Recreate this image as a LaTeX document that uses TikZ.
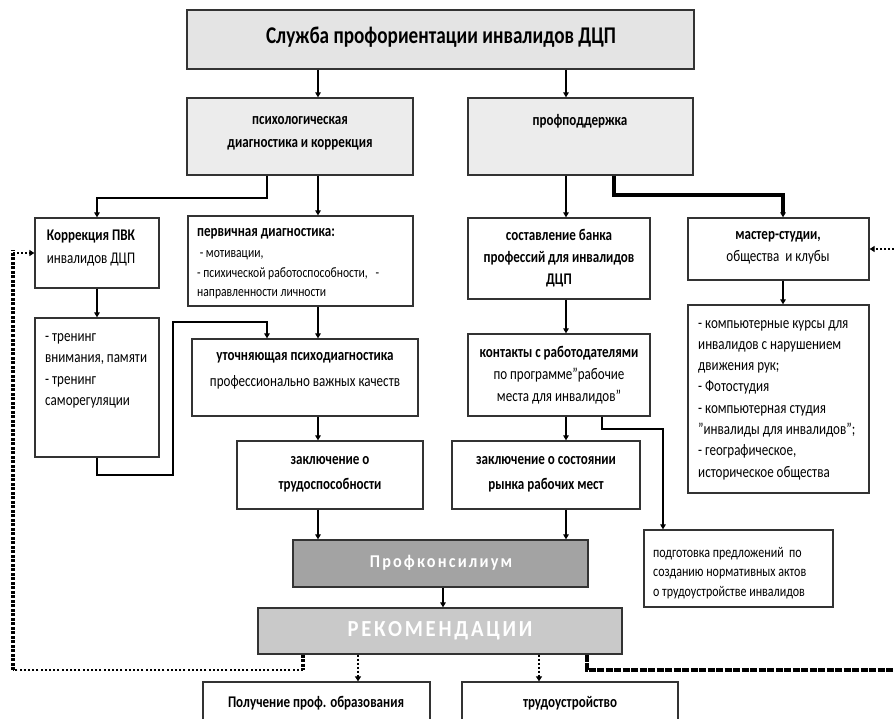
\documentclass[tikz,border=0pt]{standalone}
\usepackage{fontspec}
\setmainfont[FakeStretch=0.8]{Carlito}
\newfontfamily\spacedfont[LetterSpace=12,FakeStretch=0.9]{Carlito}
\usetikzlibrary{arrows.meta}
\definecolor{gtop}{HTML}{E4E4E4}
\definecolor{gsub}{HTML}{ECECEC}
\definecolor{gkons}{HTML}{A3A3A3}
\definecolor{grek}{HTML}{C9C9C9}
\definecolor{edge}{HTML}{333333}
\newcommand\bx[6][]{\node[box,#1,minimum width={(#5-#3)*1pt},minimum height={(#6-#4)*1pt}] (#2) at ({(#3+#5)/2},{(#4+#6)/2}) {};}
\tikzset{
  box/.style={draw=edge, line width=1.3pt, inner sep=0pt, fill=white},
  conn/.style={line width=1.8pt, -{Triangle[width=5.5pt,length=5pt]}},
  txt/.style={inner sep=0pt, align=center, font=\fontsize{16.3}{22}\selectfont},
  btxt/.style={txt, font=\bfseries\fontsize{16.3}{22}\selectfont},
  ltxt/.style={inner sep=0pt, align=left, font=\fontsize{16.3}{21.3}\selectfont},
  dotA/.style={line width=3.5pt, dash pattern=on 3pt off 1.5pt},
  dotB/.style={line width=2.5pt, dash pattern=on 2pt off 2.2pt},
  dotC/.style={line width=3.5pt, dash pattern=on 7pt off 1.5pt},
  dotArr/.style={line width=2.2pt, dash pattern=on 2pt off 2pt, -{Triangle[width=6pt,length=5pt]}},
}
\begin{document}
\begin{tikzpicture}[x=1pt,y=-1pt]
\clip (0,0) rectangle (894,719);
% boxes
\bx[fill=gtop]{top}{187}{10}{694}{69}
\bx[fill=gsub]{psy}{187}{98}{413}{175}
\bx[fill=gsub]{pp}{468}{98}{693}{175}
\bx{korr}{35}{218}{159}{288}
\bx{perv}{188}{216}{413}{306}
\bx{train}{35}{318}{159}{457}
\bx{utoch}{192}{339}{418}{416}
\bx{zakla}{237}{441}{423}{509}
\bx{sost}{468}{218}{650}{299}
\bx{kont}{468}{334}{650}{416}
\bx{zaklb}{452}{441}{640}{509}
\bx{master}{688}{218}{869}{280}
\bx{list}{688}{305}{869}{493}
\bx{podg}{644}{530}{833}{607}
\bx[fill=gkons]{kons}{293}{540}{588}{587}
\bx[fill=grek]{rek}{258}{608}{622}{654}
\bx{poluch}{203}{682}{430}{740}
\bx{trud}{462}{682}{678}{740}
% texts
\node[inner sep=0pt, font=\bfseries\fontsize{24}{26}\selectfont] (ttop) at (441,37) {Служба профориентации инвалидов ДЦП};
\node[btxt, font=\bfseries\fontsize{16.3}{23}\selectfont] (tpsy) at (300,133) {психологическая\\диагностика и коррекция};
\node[btxt] (tpp) at (580,121) {профподдержка};
\node[txt, font=\fontsize{16.3}{23}\selectfont] (tkorr) at (91,248) {\textbf{Коррекция ПВК}\\инвалидов ДЦП};
\node[inner sep=0pt, anchor=west, font=\bfseries\fontsize{16.3}{15}\selectfont] (tperv1) at (197,234) {первичная диагностика:};
\node[inner sep=0pt, anchor=west, align=left, font=\fontsize{14.5}{19.5}\selectfont] (tperv2) at (197,275) {\ - мотивации,\\- психической работоспособности, \ \ -\\направленности личности};
\node[ltxt, anchor=west] (ttrain) at (45,371) {- тренинг\\внимания, памяти\\- тренинг\\саморегуляции};
\node[txt, font=\fontsize{16.3}{26}\selectfont] (tutoch) at (305,371) {\textbf{уточняющая психодиагностика}\\профессионально важных качеств};
\node[btxt, font=\bfseries\fontsize{16.3}{25}\selectfont] (tzakla) at (330,474) {заключение о\\трудоспособности};
\node[btxt] (tsost) at (559,258) {составление банка\\профессий для инвалидов\\ДЦП};
\node[txt] (tkont) at (559,375) {\textbf{контакты с работодателями}\\по программе"рабочие\\места для инвалидов"};
\node[btxt, font=\bfseries\fontsize{16.3}{25}\selectfont] (tzaklb) at (546,474) {заключение о состоянии\\рынка рабочих мест};
\node[txt] (tmaster) at (778,248) {\textbf{мастер-студии,}\\общества \ и клубы};
\node[ltxt, anchor=west] (tlist) at (698,400) {- компьютерные курсы для\\инвалидов с нарушением\\движения рук;\\- Фотостудия\\- компьютерная студия\\"инвалиды для инвалидов";\\- географическое,\\историческое общества};
\node[inner sep=0pt, anchor=west, align=left, font=\fontsize{15}{19.5}\selectfont] (tpodg) at (653,573) {подготовка предложений \ по\\созданию нормативных актов\\о трудоустройстве инвалидов};
\node[inner sep=0pt, text=white, font=\spacedfont\bfseries\fontsize{18}{18}\selectfont] (tkons) at (441,563) {Профконсилиум};
\node[inner sep=0pt, text=white, font=\spacedfont\bfseries\fontsize{23}{22}\selectfont] (trek) at (440,631) {РЕКОМЕНДАЦИИ};
\node[btxt] (tpoluch) at (316,703) {Получение проф. образования};
\node[btxt] (ttrud) at (570,703) {трудоустройство};
% column coordinates
\coordinate (xa) at (318,0);
\coordinate (xb) at (566,0);
\coordinate (xl) at (97,0);
\coordinate (xpl) at (267,0);
\coordinate (xbr) at (614,0);
\coordinate (xm) at (783,0);
\coordinate (xk) at (602,0);
\coordinate (xp) at (663,0);
\coordinate (xr) at (443,0);
\coordinate (xt) at (173,0);
\coordinate (xdl) at (303,0);
\coordinate (xdr) at (587,0);
\coordinate (xpo) at (358,0);
\coordinate (xtr) at (539,0);
\coordinate (xedge) at (13,0);
\coordinate (ya) at (0,198);
\coordinate (yb) at (0,195);
\coordinate (yc) at (0,475);
\coordinate (yd) at (0,322);
\coordinate (ye) at (0,429);
\coordinate (yf) at (0,670);
\coordinate (yg) at (0,250);
\coordinate (redge) at (894,670);
\coordinate (rarr) at (894,249);
% connectors
\draw[conn] (top.south -| xa) -- (psy.north -| xa);
\draw[conn] (top.south -| xb) -- (pp.north -| xb);
\draw[conn, line width=2.6pt] (psy.south -| xpl) -- (xpl |- ya) -- (xl |- ya) -- (korr.north -| xl);
\draw[conn] (psy.south -| xa) -- (perv.north -| xa);
\draw[conn] (korr.south) -- (train.north);
\draw[conn, line width=2.8pt] (train.south) -- (train.south |- yc) -- (xt |- yc) -- (xt |- yd) -- (xpl |- yd) -- (utoch.north -| xpl);
\draw[conn] (perv.south -| xa) -- (utoch.north -| xa);
\draw[conn] (utoch.south -| xa) -- (zakla.north -| xa);
\draw[conn] (zakla.south -| xa) -- (kons.north -| xa);
\draw[conn] (pp.south -| xb) -- (sost.north -| xb);
\draw[conn, line width=4pt] (pp.south -| xbr) -- (xbr |- yb) -- (xm |- yb) -- (master.north -| xm);
\draw[conn] (sost.south -| xb) -- (kont.north -| xb);
\draw[conn] (kont.south -| xb) -- (zaklb.north -| xb);
\draw[conn] (zaklb.south -| xb) -- (kons.north -| xb);
\draw[conn, line width=2pt] (kont.south -| xk) -- (xk |- ye) -- (xp |- ye) -- (podg.north -| xp);
\draw[conn] (master.south -| xm) -- (list.north -| xm);
\draw[conn] (kons.south -| xr) -- (rek.north -| xr);
\draw[dotArr] (rek.south -| xpo) -- (poluch.north -| xpo);
\draw[dotArr] (rek.south -| xtr) -- (trud.north -| xtr);
% feedback loops
\draw[dotA] (rek.south -| xdl) -- (xdl |- yf);
\draw[dotB] (xdl |- yf) -- (xedge |- yf);
\draw[dotA] (xedge |- yf) -- (xedge |- yg);
\draw[dotArr] (xedge |- korr.west) -- (korr.west);
\draw[dotC] (rek.south -| xdr) -- (xdr |- yf) -- (redge);
\draw[dotArr] (rarr) -- (master.east);
\end{tikzpicture}
\end{document}
